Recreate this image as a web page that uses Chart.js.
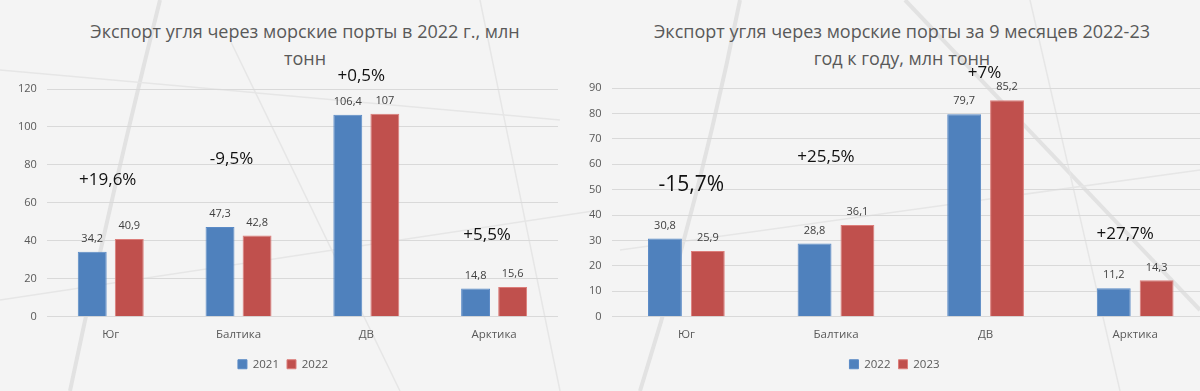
<!DOCTYPE html>
<html lang="ru">
<head>
<meta charset="utf-8">
<script src="https://cdn.jsdelivr.net/npm/chart.js@4"></script>
<style>
  html, body { margin: 0; padding: 0; }
  body {
    width: 1200px; height: 391px; overflow: hidden; position: relative;
    background: #f4f4f4;
    font-family: "Open Sans", sans-serif;
  }
  .box { position: absolute; top: 0; height: 391px; }
  .title {
    position: absolute; top: 18px; text-align: center;
    font-size: 18px; line-height: 27px; color: #595959;
  }
  svg.bg { position: absolute; left: 0; top: 0; }
</style>
</head>
<body>
<!-- faint decorative network in the background -->
<svg class="bg" width="1200" height="391">
  <g stroke="#e2e2e2" fill="none" stroke-width="4">
    <path d="M160 0 Q110 200 70 391"/>
    <path d="M905 0 L1200 310"/>
    <path d="M740 0 Q700 200 640 391"/>
  </g>
  <g stroke="#e6e6e6" fill="none" stroke-width="1.5">
    <path d="M0 70 L560 120"/>
    <path d="M230 40 L400 391"/>
    <path d="M1030 0 L1120 391"/>
    <path d="M620 250 L1200 170"/>
    <path d="M0 300 L600 210"/>
    <path d="M480 0 L560 391"/>
  </g>
</svg>
<div class="title" style="left: 50px; width: 510px;">Экспорт угля через морские порты в 2022 г., млн<br>тонн</div>
<div class="title" style="left: 610px; width: 584px;">Экспорт угля через морские порты за 9 месяцев 2022-23<br>год к году, млн тонн</div>
<div class="box" style="left: 0; width: 575px;"><canvas id="leftChart"></canvas></div>
<div class="box" style="left: 572px; width: 640px;"><canvas id="rightChart"></canvas></div>
<script>
// regions
const categories = ['Юг', 'Балтика', 'ДВ', 'Арктика'];

// left chart: 2022 vs 2021
const export2021 = [34.2, 47.3, 106.4, 14.8];
const export2022 = [40.9, 42.8, 107, 15.6];
const changeFull = ['+19,6%', '-9,5%', '+0,5%', '+5,5%'];

// right chart: 9 months 2023 vs 2022
const nineMonths2022 = [30.8, 28.8, 79.7, 11.2];
const nineMonths2023 = [25.9, 36.1, 85.2, 14.3];
const changeNine = ['-15,7%', '+25,5%', '+7%', '+27,7%'];

const BLUE = '#4f81bd';
const RED = '#c0504d';
const TEXT = '#595959';

const fmt = v => String(v).replace('.', ',');

// value labels over the bars + the big % notes
const barNotes = {
    id: 'barNotes',
    afterDatasetsDraw(chart, args, opts) {
        const ctx = chart.ctx;
        ctx.save();
        ctx.textAlign = 'center';
        ctx.textBaseline = 'middle';
        ctx.font = '11px "Open Sans"';
        ctx.fillStyle = '#404040';
        chart.data.datasets.forEach((ds, i) => {
            chart.getDatasetMeta(i).data.forEach((bar, j) => {
                ctx.fillText(fmt(ds.data[j]), bar.x, bar.y - 13);
            });
        });
        const xs = chart.scales.x, ys = chart.scales.y;
        ctx.fillStyle = '#111';
        opts.notes.forEach((t, j) => {
            ctx.font = (opts.sizes[j] || 17) + 'px "Open Sans"';
            ctx.fillText(t, xs.getPixelForValue(j) + opts.shift[j], ys.getPixelForValue(opts.levels[j]));
        });
        ctx.restore();
    }
};

function makeChart(id, seriesA, seriesB, labelA, labelB, max, step, notes, pad) {
    return new Chart(document.getElementById(id), {
        type: 'bar',
        data: {
            labels: categories,
            datasets: [
                { label: labelA, data: seriesA, backgroundColor: BLUE, borderColor: '#5a8ac6', borderWidth: 1 },
                { label: labelB, data: seriesB, backgroundColor: RED, borderColor: '#dc7d7a', borderWidth: 1 }
            ]
        },
        options: {
            responsive: true,
            maintainAspectRatio: false,
            animation: false,
            categoryPercentage: pad.cat,
            barPercentage: pad.bar,
            layout: { padding: { top: pad.top, left: pad.left, right: pad.right, bottom: 11 } },
            scales: {
                x: {
                    grid: { display: false },
                    border: { display: false },
                    ticks: { color: TEXT, font: { family: 'Open Sans', size: 11.5 }, padding: 3 },
                    afterFit(scale) { scale.height += 6; }
                },
                y: {
                    min: 0,
                    max: max,
                    grid: { color: '#d9d9d9', drawTicks: false },
                    border: { display: false },
                    ticks: { stepSize: step, color: TEXT, font: { family: 'Open Sans', size: 11 }, padding: 10 }
                }
            },
            plugins: {
                legend: {
                    position: 'bottom',
                    labels: {
                        boxWidth: 9, boxHeight: 9, padding: 8,
                        color: TEXT, font: { family: 'Open Sans', size: 11.5 }
                    }
                },
                tooltip: { enabled: false },
                barNotes: notes
            }
        },
        plugins: [barNotes]
    });
}

makeChart('leftChart', export2021, export2022, '2021', '2022', 120, 20, {
    notes: changeFull,
    levels: [72, 83, 127, 43],
    sizes: [17, 17, 17, 17],
    shift: [-3, -7, -5, -7]
}, { top: 89, left: 8, right: 17, cat: 0.58, bar: 0.78 });

makeChart('rightChart', nineMonths2022, nineMonths2023, '2022', '2023', 90, 10, {
    notes: changeNine,
    levels: [52, 62.6, 95.7, 32.3],
    sizes: [21, 17, 17, 17],
    shift: [5, -10, -1, -10]
}, { top: 88, left: 7, right: 2, cat: 0.573, bar: 0.79 });
</script>
</body>
</html>
